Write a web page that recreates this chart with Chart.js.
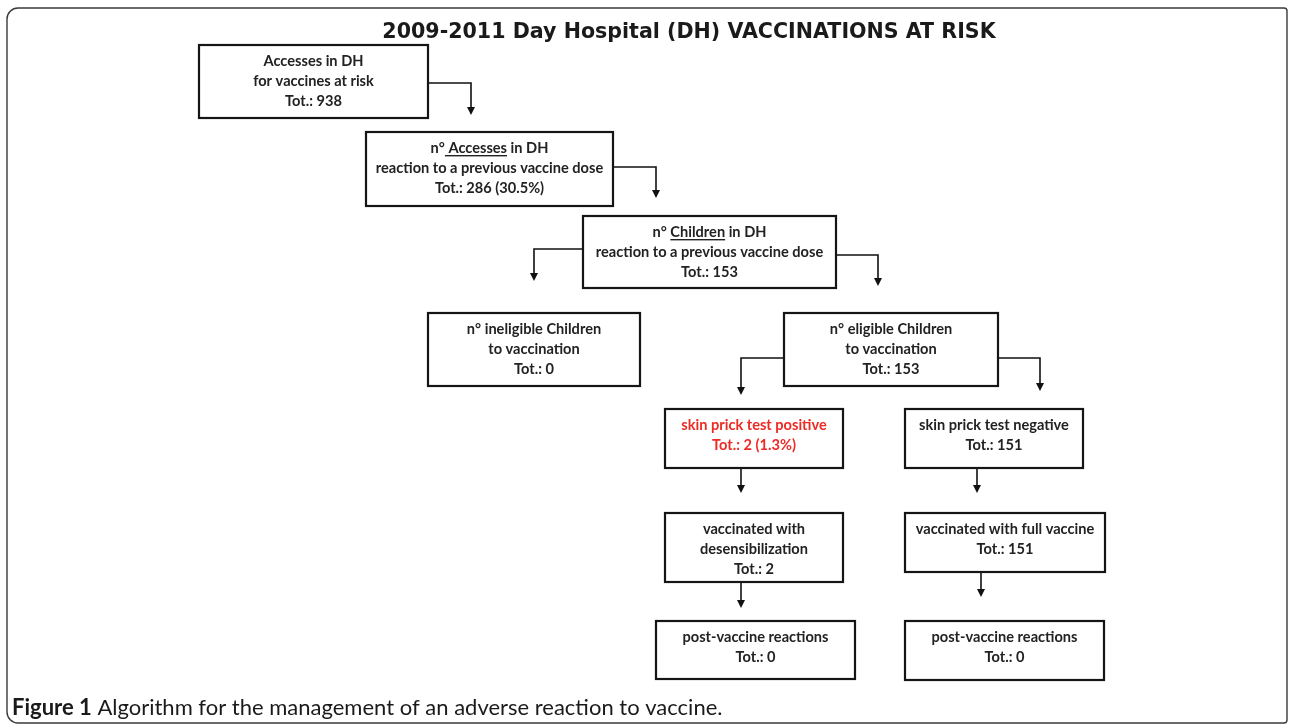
<!DOCTYPE html>
<html>
<head>
<meta charset="utf-8">
<title>2009-2011 Day Hospital (DH) VACCINATIONS AT RISK</title>
<script src="https://cdn.jsdelivr.net/npm/chart.js@4"></script>
<style>
  html, body { margin: 0; padding: 0; background: #fff; }
  canvas { display: block; }
</style>
</head>
<body>
<canvas id="fluxo" width="1290" height="725"></canvas>
<script>
/* ================= DADOS ================= */
const titleText = "2009-2011 Day Hospital (DH) VACCINATIONS AT RISK";
const captionLabel = "Figure 1";
const captionText = " Algorithm for the management of an adverse reaction to vaccine.";

const nodeLines = [
  ["Accesses in DH", "for vaccines at risk"],
  ["n° Accesses in DH", "reaction to a previous vaccine dose"],
  ["n° Children in DH", "reaction to a previous vaccine dose"],
  ["n° ineligible Children", "to vaccination"],
  ["n° eligible Children", "to vaccination"],
  ["skin prick test positive"],
  ["skin prick test negative"],
  ["vaccinated with", "desensibilization"],
  ["vaccinated with full vaccine"],
  ["post-vaccine reactions"],
  ["post-vaccine reactions"]
];
const nodeTotals = [938, 286, 153, 0, 153, 2, 151, 2, 151, 0, 0];
const nodeShares = [null, "30.5%", null, null, null, "1.3%", null, null, null, null, null];

const linkFrom = [0, 1, 2, 2, 4, 4, 5, 6, 7, 8];
const linkTo   = [1, 2, 3, 4, 5, 6, 7, 8, 9, 10];

/* ================= LAYOUT (unidades do diagrama) ================= */
const boxLeft   = [199, 366, 583, 428, 784, 665, 905, 665, 905, 656, 905];
const boxTop    = [45, 132, 216, 313, 313, 409, 409, 513, 513, 621, 621];
const boxWidth  = [229, 247, 253, 212, 214, 178, 178, 178, 200, 199, 199];
const boxHeight = [73, 74, 72, 73, 73, 59, 59, 69, 59, 58, 59];

// saída do conector: lado da caixa, y de saída, x da descida, y da ponta
const linkSide  = ["r", "r", "l", "r", "l", "r", "b", "b", "b", "b"];
const linkExitY = [83, 167, 249, 255, 358, 358, null, null, null, null];
const linkDropX = [471, 656, 534, 878, 741, 1040, 741, 977, 741, 981];
const linkTipY  = [115, 198, 281, 286, 395, 391, 493, 493, 608, 597];

/* ================= ESTILOS ================= */
const underlineWord = { 1: " Accesses", 2: "Children" };
const redNodes = [5];
const inkColor = "#222";
const redColor = "#ee2a24";
const boxFont = "bold 14.6px Lato";
const lineStep = 20;

/* ================= DESENHO ================= */
function drawArrowHead(ctx, x, y) {
  ctx.beginPath();
  ctx.moveTo(x - 4, y - 8);
  ctx.lineTo(x + 4, y - 8);
  ctx.lineTo(x, y);
  ctx.closePath();
  ctx.fill();
}

function drawTextLine(ctx, text, cx, y, word) {
  const w = ctx.measureText(text).width;
  const x0 = cx - w / 2;
  ctx.textAlign = "left";
  ctx.fillText(text, x0, y);
  if (word) {
    const idx = text.indexOf(word);
    const ux = x0 + ctx.measureText(text.slice(0, idx)).width;
    const uw = ctx.measureText(word).width;
    ctx.fillRect(ux, y + 7, uw, 1.4);
  }
}

const flowPlugin = {
  id: "fluxo",
  afterDatasetsDraw(chart) {
    const ctx = chart.ctx;
    const sx = chart.scales.x;
    const sy = chart.scales.y;
    const px = v => sx.getPixelForValue(v);
    const py = v => sy.getPixelForValue(v);
    const centers = chart.getDatasetMeta(0).data;

    ctx.save();

    // moldura
    ctx.strokeStyle = "#3a3a3a";
    ctx.lineWidth = 1.4;
    ctx.beginPath();
    ctx.roundRect(px(7), py(8), px(1287) - px(7), py(723) - py(8), [11, 3, 3, 11]);
    ctx.stroke();

    // título
    ctx.fillStyle = "#1a1a1a";
    ctx.font = "bold 20.6px 'DejaVu Sans'";
    ctx.textAlign = "center";
    ctx.textBaseline = "middle";
    ctx.fillText(titleText, px(689), py(33));

    // legenda
    ctx.textAlign = "left";
    ctx.font = "bold 22px Lato";
    ctx.fillText(captionLabel, px(12), py(708));
    const lw = ctx.measureText(captionLabel).width;
    ctx.font = "22px Lato";
    ctx.fillText(captionText, px(12) + lw, py(708));

    // conectores
    ctx.strokeStyle = "#111";
    ctx.fillStyle = "#111";
    ctx.lineWidth = 1.6;
    linkFrom.forEach((f, i) => {
      const side = linkSide[i];
      const dx = px(linkDropX[i]);
      const tip = py(linkTipY[i]);
      ctx.beginPath();
      if (side === "b") {
        ctx.moveTo(dx, py(boxTop[f] + boxHeight[f]));
      } else {
        const sxEdge = side === "r" ? px(boxLeft[f] + boxWidth[f]) : px(boxLeft[f]);
        const ey = py(linkExitY[i]);
        ctx.moveTo(sxEdge, ey);
        ctx.lineTo(dx, ey);
      }
      ctx.lineTo(dx, tip - 6);
      ctx.stroke();
      drawArrowHead(ctx, dx, tip);
    });

    // caixas
    ctx.lineWidth = 2.2;
    ctx.strokeStyle = "#151515";
    centers.forEach((pt, i) => {
      const x = px(boxLeft[i]);
      const y = py(boxTop[i]);
      const w = px(boxLeft[i] + boxWidth[i]) - x;
      const h = py(boxTop[i] + boxHeight[i]) - y;
      ctx.strokeRect(x, y, w, h);

      const lines = nodeLines[i].slice();
      let tot = "Tot.: " + nodeTotals[i];
      if (nodeShares[i]) tot += " (" + nodeShares[i] + ")";
      lines.push(tot);

      ctx.font = boxFont;
      ctx.textBaseline = "middle";
      ctx.fillStyle = redNodes.includes(i) ? redColor : inkColor;
      lines.forEach((txt, k) => {
        drawTextLine(ctx, txt, pt.x, y + 16 + k * lineStep, k === 0 ? underlineWord[i] : null);
      });
    });

    ctx.restore();
  }
};

/* ================= GRÁFICO ================= */
const pontos = nodeTotals.map((t, i) => ({
  x: boxLeft[i] + boxWidth[i] / 2,
  y: boxTop[i] + boxHeight[i] / 2
}));

new Chart(document.getElementById("fluxo"), {
  type: "scatter",
  data: {
    datasets: [{ data: pontos, pointRadius: 0, showLine: false }]
  },
  options: {
    responsive: false,
    animation: false,
    events: [],
    layout: { padding: 0 },
    plugins: { legend: { display: false }, tooltip: { enabled: false } },
    scales: {
      x: { type: "linear", min: 0, max: 1290, display: false },
      y: { type: "linear", min: 0, max: 725, reverse: true, display: false }
    }
  },
  plugins: [flowPlugin]
});
</script>
</body>
</html>
